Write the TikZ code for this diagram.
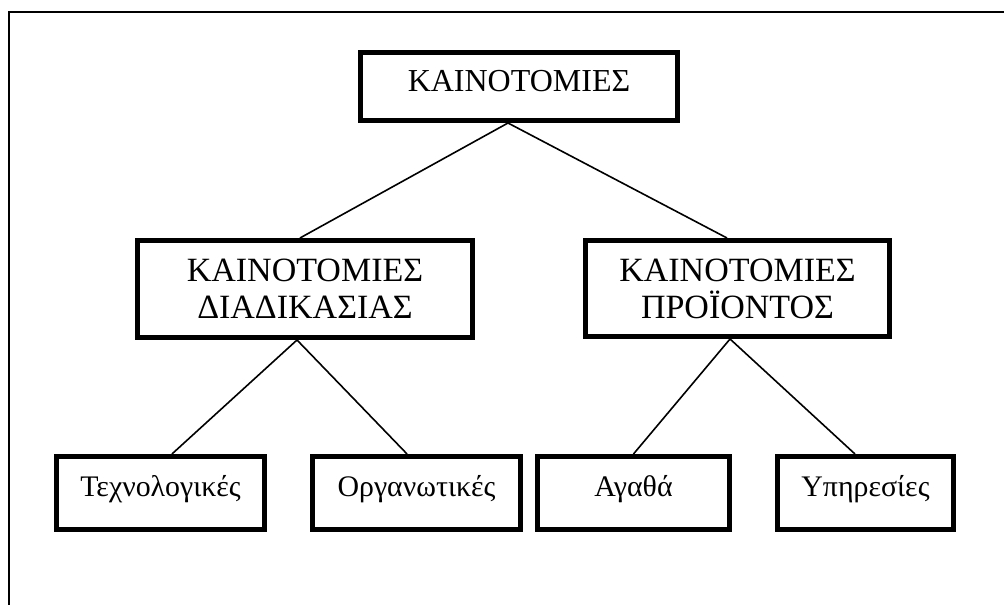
\documentclass[tikz,border=0pt]{standalone}
\usepackage{fontspec}
\setmainfont{Liberation Serif}
\begin{document}
\begin{tikzpicture}[x=0.75pt,y=-0.75pt,
    box/.style={draw,line width=3.75pt,rectangle,inner sep=0pt},
    mid/.style={box,align=center,font=\fontsize{25.5}{27.75}\selectfont},
    leaf/.style={box,minimum height=54.75pt,text height=15pt,text depth=9pt,
      font=\fontsize{22.4}{27}\selectfont}]
  \useasboundingbox (0,0) rectangle (1004,605);
  \draw[line width=1.6pt] (9,605) -- (9,12) -- (1004,12);
  \node[box,minimum width=237.75pt,minimum height=51pt,
    text height=16pt,text depth=7.75pt,font=\fontsize{24}{28}\selectfont]
    (k) at (519,86.5) {ΚΑΙΝΟΤΟΜΙΕΣ};
  \node[mid,minimum width=251.25pt,minimum height=72.75pt]
    (kd) at (305,289) {ΚΑΙΝΟΤΟΜΙΕΣ\\ΔΙΑΔΙΚΑΣΙΑΣ};
  \node[mid,minimum width=228pt,minimum height=72pt]
    (kp) at (737.5,288.5) {ΚΑΙΝΟΤΟΜΙΕΣ\\ΠΡΟΪΟΝΤΟΣ};
  \node[leaf,minimum width=156pt] (tex) at (160.5,493) {Τεχνολογικές};
  \node[leaf,minimum width=156pt] (org) at (416.5,493) {Οργανωτικές};
  \node[leaf,minimum width=144pt] (ag) at (633.5,493) {Αγαθά};
  \node[leaf,minimum width=132pt] (yp) at (865.5,493) {Υπηρεσίες};
  \begin{scope}[line width=1.2pt]
    \draw ([xshift=-8.25pt]k.south) to ([xshift=-3.75pt]kd.north);
    \draw ([xshift=-8.25pt]k.south) to ([xshift=-7.9pt]kp.north);
    \draw ([xshift=-6pt]kd.south) to ([xshift=8.6pt]tex.north);
    \draw ([xshift=-6pt]kd.south) to ([xshift=-7.1pt]org.north);
    \draw ([xshift=-5.6pt]kp.south) to (ag.north);
    \draw ([xshift=-5.6pt]kp.south) to ([xshift=-7.9pt]yp.north);
  \end{scope}
\end{tikzpicture}
\end{document}
